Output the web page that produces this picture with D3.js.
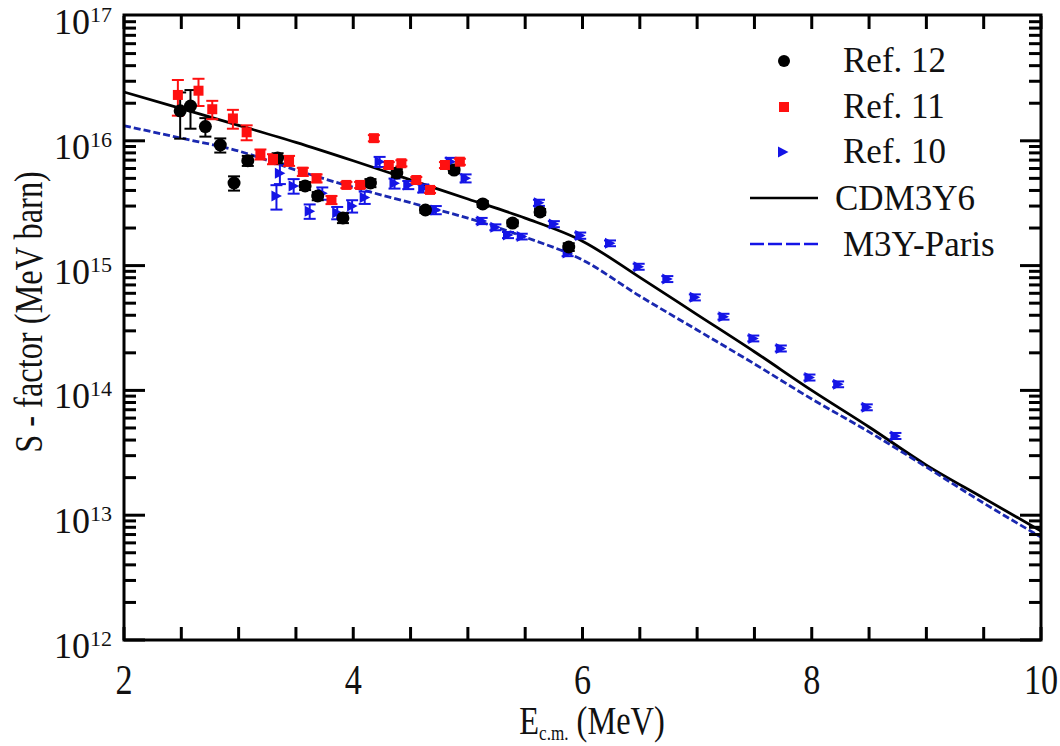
<!DOCTYPE html>
<html><head><meta charset="utf-8">
<script src="https://cdn.jsdelivr.net/npm/d3@7"></script>
<style>
body{margin:0;background:#fff}
text{font-family:"Liberation Serif","Times New Roman",serif;fill:#111}
</style>
</head><body>
<svg id="chart" width="1060" height="746"></svg>
<script>
// ---- data ----
const theoryE = [2,2.5,3,3.5,4,4.5,5,5.5,6,6.5,7,7.5,8,8.5,9,9.5,10];
const cdm3y6 = [2.46e16,1.81e16,1.33e16,9.72e15,6.92e15,4.86e15,3.42e15,2.40e15,1.57e15,8.04e14,4.05e14,2.04e14,1.0e14,5.09e13,2.52e13,1.37e13,7.46e12];
const m3yParis = [1.32e16,1.05e16,8.28e15,5.83e15,4.24e15,3.19e15,2.40e15,1.69e15,1.11e15,5.70e14,3.05e14,1.63e14,8.53e13,4.65e13,2.43e13,1.25e13,6.68e12];

const ref12E = [2.49,2.58,2.71,2.84,2.96,3.08,3.34,3.58,3.69,3.91,4.15,4.38,4.63,4.88,5.13,5.39,5.63,5.88];
const ref12S = [1.74e16,1.90e16,1.30e16,9.25e15,4.59e15,6.93e15,7.28e15,4.35e15,3.61e15,2.41e15,4.59e15,5.52e15,2.79e15,5.83e15,3.12e15,2.19e15,2.69e15,1.41e15];
const ref12Err = [0.7e16,0.65e16,0.22e16,1.2e15,0.6e15,0.64e15,0.67e15,0.32e15,0.27e15,0.22e15,0.34e15,0.41e15,0.15e15,0.32e15,0.17e15,0.12e15,0.15e15,0.1e15];

const ref11E = [2.47,2.65,2.77,2.95,3.07,3.19,3.30,3.44,3.56,3.68,3.81,3.94,4.06,4.18,4.31,4.42,4.55,4.67,4.80,4.93];
const ref11S = [2.33e16,2.52e16,1.79e16,1.51e16,1.17e16,7.80e15,7.15e15,6.93e15,5.65e15,5.01e15,3.36e15,4.43e15,4.43e15,1.05e16,6.40e15,6.61e15,4.85e15,4.04e15,6.40e15,6.80e15];
const ref11Err = [0.74e16,0.62e16,0.3e16,0.26e16,0.16e16,0.72e15,0.66e15,0.64e15,0.42e15,0.37e15,0.25e15,0.25e15,0.25e15,0.06e16,0.35e15,0.37e15,0.27e15,0.22e15,0.35e15,0.38e15];

const ref10E = [3.33,3.36,3.48,3.62,3.73,3.86,3.99,4.10,4.23,4.36,4.48,4.61,4.72,4.85,4.98,5.12,5.24,5.35,5.47,5.62,5.75,5.87,5.98,6.24,6.49,6.74,6.98,7.23,7.49,7.73,7.98,8.23,8.48,8.73];
const ref10S = [3.61e15,5.50e15,4.35e15,2.73e15,3.80e15,2.65e15,3.0e15,3.52e15,6.80e15,4.56e15,4.43e15,4.16e15,2.79e15,6.80e15,5.01e15,2.28e15,2.03e15,1.76e15,1.71e15,3.19e15,2.15e15,1.26e15,1.74e15,1.51e15,9.80e14,7.81e14,5.57e14,3.90e14,2.61e14,2.17e14,1.27e14,1.12e14,7.33e13,4.32e13];
const ref10Err = [0.8e15,1.0e15,0.58e15,0.36e15,0.43e15,0.3e15,0.34e15,0.4e15,0.63e15,0.42e15,0.33e15,0.31e15,0.21e15,0.5e15,0.37e15,0.13e15,0.11e15,0.1e15,0.09e15,0.18e15,0.12e15,0.07e15,0.1e15,0.08e15,0.54e14,0.43e14,0.31e14,0.21e14,0.14e14,0.12e14,0.07e14,0.06e14,0.4e13,0.24e13];

const xTicks = [2,4,6,8,10];
const yTicks = [1e12,1e13,1e14,1e15,1e16,1e17];
const legendLabels = ["Ref. 12","Ref. 11","Ref. 10","CDM3Y6","M3Y-Paris"];

// ---- drawing ----
const svg = d3.select("#chart");
const L = 124, R = 1041, T = 16, B = 640;
const x = d3.scaleLinear().domain([2,10]).range([L,R]);
const y = d3.scaleLog().domain([1e12,1e17]).range([B,T]);

const RED = "#ff1010", BLUE = "#1414e6", DASH = "#1a28b0";

svg.append("clipPath").attr("id","clip").append("rect").attr("x",L).attr("y",T).attr("width",R-L).attr("height",B-T);
const plot = svg.append("g").attr("clip-path","url(#clip)");

const line = arr => d3.line().curve(d3.curveMonotoneX).x((d,i)=>x(theoryE[i])).y(d=>y(d))(arr);
plot.append("path").attr("d",line(cdm3y6)).attr("fill","none").attr("stroke","#000").attr("stroke-width",2.8);
plot.append("path").attr("d",line(m3yParis)).attr("fill","none").attr("stroke",DASH).attr("stroke-width",2.8).attr("stroke-dasharray","7,3");

function errBars(E,S,Er,color){
  const g = plot.append("g").attr("stroke",color).attr("stroke-width",2);
  E.forEach((e,i)=>{
    const cx = x(e), y1 = y(S[i]+Er[i]), y2 = y(Math.max(S[i]-Er[i],1e12));
    g.append("line").attr("x1",cx).attr("x2",cx).attr("y1",y1).attr("y2",y2);
    g.append("line").attr("x1",cx-6).attr("x2",cx+6).attr("y1",y1).attr("y2",y1);
    g.append("line").attr("x1",cx-6).attr("x2",cx+6).attr("y1",y2).attr("y2",y2);
  });
}
errBars(ref10E,ref10S,ref10Err,BLUE);
errBars(ref12E,ref12S,ref12Err,"#000");
errBars(ref11E,ref11S,ref11Err,RED);

const tri = "M-5,-5.5L5.5,0L-5,5.5Z";
plot.append("g").selectAll("path").data(ref10E).join("path")
  .attr("d",tri).attr("fill",BLUE)
  .attr("transform",(d,i)=>`translate(${x(d)},${y(ref10S[i])})`);
plot.append("g").selectAll("circle").data(ref12E).join("circle")
  .attr("cx",d=>x(d)).attr("cy",(d,i)=>y(ref12S[i])).attr("r",6.5).attr("fill","#000");
plot.append("g").selectAll("rect").data(ref11E).join("rect")
  .attr("x",d=>x(d)-5).attr("y",(d,i)=>y(ref11S[i])-5).attr("width",10).attr("height",10).attr("fill",RED);

// ticks
const tk = svg.append("g").attr("stroke","#000").attr("stroke-width",3);
d3.range(2,10.01,0.5).forEach(v=>{
  const px = x(v);
  tk.append("line").attr("x1",px).attr("x2",px).attr("y1",B).attr("y2",B-13);
  tk.append("line").attr("x1",px).attr("x2",px).attr("y1",T).attr("y2",T+13);
});
for(let p=12;p<17;p++){
  for(let m=1;m<10;m++){
    const v = m*Math.pow(10,p), py = y(v);
    const len = m===1 ? 21 : 12;
    tk.append("line").attr("x1",L).attr("x2",L+len).attr("y1",py).attr("y2",py);
    tk.append("line").attr("x1",R).attr("x2",R-len).attr("y1",py).attr("y2",py);
  }
}
svg.append("rect").attr("x",L).attr("y",T-1).attr("width",R-L).attr("height",B-T+1)
  .attr("fill","none").attr("stroke","#000").attr("stroke-width",3);

// tick labels
svg.append("g").selectAll("text").data(xTicks).join("text")
  .attr("text-anchor","middle").attr("font-size",36)
  .attr("transform",d=>`translate(${x(d)},694) scale(0.95,1.15)`).text(d=>d);
const yl = svg.append("g").selectAll("text").data(yTicks).join("text")
  .attr("text-anchor","end").attr("font-size",36)
  .attr("x",112).attr("y",d=>y(d)+18);
yl.append("tspan").text("10");
yl.append("tspan").attr("dy",-12).attr("font-size",22).text(d=>Math.round(Math.log10(d)));

// axis titles
const xt = svg.append("text").attr("transform","translate(592,734) scale(0.9,1.1)").attr("text-anchor","middle").attr("font-size",36);
xt.append("tspan").text("E");
xt.append("tspan").attr("font-size",19).attr("dy",5).text("c.m.");
xt.append("tspan").attr("dy",-5).text(" (MeV)");
svg.append("text").attr("transform","translate(42,312) rotate(-90) scale(0.9,1.1)").attr("text-anchor","middle")
  .attr("font-size",36).text("S - factor (MeV barn)");

// legend
const lg = svg.append("g");
lg.append("circle").attr("cx",784).attr("cy",61).attr("r",6).attr("fill","#000");
lg.append("rect").attr("x",779).attr("y",102).attr("width",10).attr("height",10).attr("fill",RED);
lg.append("path").attr("d",tri).attr("fill",BLUE).attr("transform","translate(783,152)");
lg.append("line").attr("x1",750).attr("x2",818).attr("y1",198).attr("y2",198).attr("stroke","#000").attr("stroke-width",2.6);
lg.append("line").attr("x1",750).attr("x2",818).attr("y1",244).attr("y2",244).attr("stroke",BLUE).attr("stroke-width",2.6).attr("stroke-dasharray","14,4");
const ly = [72,118,163,210,256], lx = [843,843,843,835,843];
legendLabels.forEach((t,i)=>{
  lg.append("text").attr("x",lx[i]).attr("y",ly[i]).attr("font-size",35).text(t);
});
</script>
</body></html>
